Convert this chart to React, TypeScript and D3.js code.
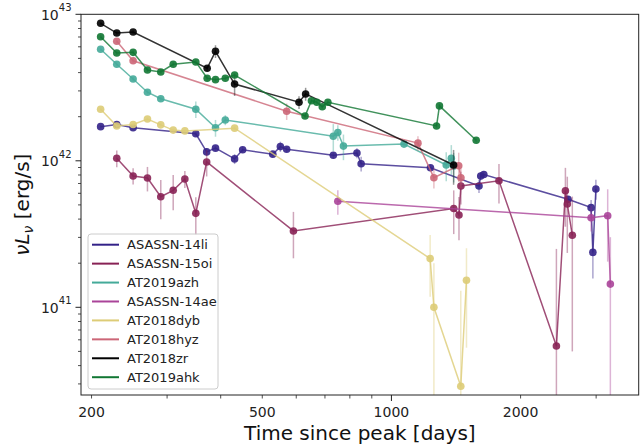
import React, { useRef, useEffect } from 'react';
import * as d3 from 'd3';

// time since peak [days], nuL_nu and its error in units of 1e42 erg/s
const days14li = [210, 229, 250, 350, 371, 389, 431, 450, 529, 551, 570, 732, 831, 850, 1233, 1600, 1615, 1642, 2580, 2920, 2948, 2996];
const lum14li = [1.71, 1.77, 1.68, 1.53, 1.15, 1.22, 1.03, 1.19, 1.11, 1.25, 1.2, 1.09, 1.13, 0.955, 0.897, 0.673, 0.788, 0.806, 0.546, 0.479, 0.237, 0.642];
const err14li = [0.05, 0.05, 0.05, 0.05, 0.07, 0.05, 0.08, 0.05, 0.04, 0.1, 0.05, 0.05, 0.09, 0.11, 0.04, 0.07, 0.05, 0.04, 0.03, 0.06, 0.08, 0.1];

const days15oi = [229, 250, 270, 290, 310, 330, 350, 371, 591, 1397, 1437, 1452, 1781, 2424, 2544, 2570, 2640];
const lum15oi = [1.04, 0.788, 0.763, 0.569, 0.629, 0.751, 0.438, 0.982, 0.332, 0.472, 0.427, 0.673, 0.731, 0.0544, 0.625, 0.507, 0.31];
const err15oi = [0.135, 0.1, 0.145, 0.17, 0.17, 0.1, 0.127, 0.2, 0.116, 0.156, 0.14, 0.17, 0.22, 0.196, 0.27, 0.272, 0.26];

const daysAzh = [210, 229, 250, 270, 290, 350, 389, 410, 732, 750, 773, 1070, 1342, 1379, 1397];
const lumAzh = [5.77, 4.56, 3.62, 2.94, 2.65, 2.25, 1.68, 1.9, 1.47, 1.56, 1.26, 1.3, 0.936, 1.04, 0.922];
const errAzh = [0.17, 0.14, 0.11, 0.09, 0.08, 0.29, 0.22, 0.15, 0.31, 0.19, 0.25, 0.04, 0.21, 0.24, 0.21];

const days14ae = [750, 2920, 3192, 3238];
const lum14ae = [0.529, 0.409, 0.422, 0.144];
const err14ae = [0.1, 0.08, 0.217, 0.157];

const daysDyb = [210, 229, 250, 270, 290, 310, 330, 431, 1231, 1256, 1451, 1496];
const lumDyb = [2.25, 1.73, 1.77, 1.93, 1.76, 1.62, 1.6, 1.67, 0.215, 0.1, 0.0289, 0.153];
const errDyb = [0.05, 0.05, 0.05, 0.05, 0.05, 0.04, 0.04, 0.05, 0.097, 0.1, 0.101, 0.1];

const daysHyz = [229, 250, 570, 1153, 1256, 1435, 1452];
const lumHyz = [6.54, 4.82, 2.18, 1.32, 0.767, 0.926, 0.767];
const errHyz = [0.2, 0.15, 0.28, 0.15, 0.12, 0.21, 0.12];

const daysZr = [210, 229, 250, 372, 389, 431, 609, 631, 1396];
const lumZr = [8.68, 7.45, 7.57, 4.28, 5.59, 3.34, 2.51, 2.86, 0.936];
const errZr = [0.2, 0.2, 0.2, 0.2, 0.56, 0.57, 0.25, 0.29, 0.25];

const daysAhk = [210, 229, 250, 270, 290, 310, 350, 372, 389, 410, 431, 629, 651, 670, 690, 711, 1274, 1294, 1576];
const lumAhk = [7.03, 5.44, 5.5, 4.17, 4.04, 4.56, 4.73, 3.66, 3.58, 3.66, 3.85, 2.02, 2.57, 2.51, 2.34, 2.51, 1.73, 2.37, 1.38];
const errAhk = [0.21, 0.16, 0.17, 0.13, 0.12, 0.14, 0.14, 0.11, 0.11, 0.11, 0.12, 0.06, 0.08, 0.08, 0.07, 0.08, 0.05, 0.07, 0.04];

const names = ['ASASSN-14li', 'ASASSN-15oi', 'AT2019azh', 'ASASSN-14ae', 'AT2018dyb', 'AT2018hyz', 'AT2018zr', 'AT2019ahk'];
const colors = ['#332288', '#882255', '#44AA99', '#AA4499', '#DDCC77', '#CC6677', '#000000', '#117733'];
const xTickLabels = [200, 500, 1000, 2000];

const App = () => {
  const svgRef = useRef(null);
  useEffect(() => {
    const W = 644, H = 445;
    const margin = { top: 14.3, right: 5.3, bottom: 50, left: 81 };
    const font = 'DejaVu Sans, sans-serif';
    const svg = d3.select(svgRef.current).attr('width', W).attr('height', H);
    svg.selectAll('*').remove();

    const x = d3.scaleLog().domain([189, 3770]).range([margin.left, W - margin.right]);
    const y = d3.scaleLog().domain([2.52e40, 1e43]).range([H - margin.bottom, margin.top]);
    const [x0, x1] = x.range();
    const [yb, yt] = y.range();

    const series = [
      [days14li, lum14li, err14li], [days15oi, lum15oi, err15oi], [daysAzh, lumAzh, errAzh],
      [days14ae, lum14ae, err14ae], [daysDyb, lumDyb, errDyb], [daysHyz, lumHyz, errHyz],
      [daysZr, lumZr, errZr], [daysAhk, lumAhk, errAhk],
    ].map(([d, l, e], i) => ({
      name: names[i],
      color: colors[i],
      pts: d.map((t, j) => ({ t, L: l[j] * 1e42, e: e[j] * 1e42 })),
    }));

    svg.append('defs').append('clipPath').attr('id', 'plotclip')
      .append('rect').attr('x', x0).attr('y', yt).attr('width', x1 - x0).attr('height', yb - yt);

    const plot = svg.append('g').attr('clip-path', 'url(#plotclip)');
    const line = d3.line().x(d => x(d.t)).y(d => y(d.L));

    series.forEach(s => {
      const g = plot.append('g');
      g.selectAll('line.err')
        .data(s.pts)
        .join('line')
        .attr('class', 'err')
        .attr('x1', d => x(d.t)).attr('x2', d => x(d.t))
        .attr('y1', d => (d.L - d.e > 0 ? y(d.L - d.e) : yb + 10))
        .attr('y2', d => y(d.L + d.e))
        .attr('stroke', s.color).attr('stroke-width', 1.5).attr('opacity', 0.4);
      g.append('path')
        .attr('d', line(s.pts))
        .attr('fill', 'none').attr('stroke', s.color).attr('stroke-width', 1.5).attr('opacity', 0.8);
      g.selectAll('circle')
        .data(s.pts)
        .join('circle')
        .attr('cx', d => x(d.t)).attr('cy', d => y(d.L)).attr('r', 3.8)
        .attr('fill', s.color).attr('opacity', 0.9);
    });

    // axes frame
    svg.append('rect')
      .attr('x', x0).attr('y', yt).attr('width', x1 - x0).attr('height', yb - yt)
      .attr('fill', 'none').attr('stroke', '#222').attr('stroke-width', 1);

    const isPow10 = v => Math.abs(Math.log10(v) - Math.round(Math.log10(v))) < 1e-9;

    // x ticks
    const xt = svg.append('g');
    x.ticks().filter(v => v >= 189 && v <= 3770).forEach(v => {
      const big = isPow10(v);
      xt.append('line').attr('x1', x(v)).attr('x2', x(v)).attr('y1', yb).attr('y2', yb + (big ? 6 : 3.5))
        .attr('stroke', '#222').attr('stroke-width', big ? 1 : 0.8);
      if (xTickLabels.includes(v)) {
        xt.append('text').attr('x', x(v)).attr('y', yb + 21.5).attr('text-anchor', 'middle')
          .style('font-family', font).style('font-size', '14px').attr('fill', '#222').text(v);
      }
    });

    // y ticks
    const yt2 = svg.append('g');
    y.ticks().filter(v => v >= 2.52e40 && v <= 1e43 * 1.0001).forEach(v => {
      const big = isPow10(v);
      yt2.append('line').attr('x1', x0).attr('x2', x0 - (big ? 5.5 : 3)).attr('y1', y(v)).attr('y2', y(v))
        .attr('stroke', '#222').attr('stroke-width', big ? 1 : 0.8);
      if (big) {
        const t = yt2.append('text').attr('x', x0 - 9.5).attr('y', y(v) + 5.3).attr('text-anchor', 'end')
          .style('font-family', font).style('font-size', '14px').attr('fill', '#222');
        t.append('tspan').text('10');
        t.append('tspan').attr('dy', -8.5).style('font-size', '10px').text(Math.round(Math.log10(v)));
      }
    });

    // axis labels
    svg.append('text').attr('x', (x0 + x1) / 2).attr('y', 440).attr('text-anchor', 'middle')
      .style('font-family', font).style('font-size', '20px').attr('fill', '#111')
      .text('Time since peak [days]');

    const yl = svg.append('text')
      .attr('transform', `translate(29,${(yt + yb) / 2}) rotate(-90)`)
      .attr('text-anchor', 'middle')
      .style('font-family', font).style('font-size', '20px').attr('fill', '#111');
    yl.append('tspan').style('font-style', 'italic').text('νL');
    yl.append('tspan').attr('dy', 4).style('font-style', 'italic').style('font-size', '14px').text('ν');
    yl.append('tspan').attr('dy', -4).text(' [erg/s]');

    // legend
    const legend = svg.append('g').attr('transform', 'translate(88,234)');
    legend.append('rect').attr('width', 130).attr('height', 155).attr('rx', 3)
      .attr('fill', 'white').attr('fill-opacity', 0.8).attr('stroke', '#ccc').attr('stroke-width', 1);
    legend.selectAll('line')
      .data(series)
      .join('line')
      .attr('x1', 4).attr('x2', 31)
      .attr('y1', (d, i) => 10.7 + i * 18.93).attr('y2', (d, i) => 10.7 + i * 18.93)
      .attr('stroke', d => d.color).attr('stroke-width', 2);
    legend.selectAll('text')
      .data(series)
      .join('text')
      .attr('x', 39)
      .attr('y', (d, i) => 15.4 + i * 18.93)
      .text(d => d.name)
      .style('font-family', font).style('font-size', '13px').attr('fill', '#222');
  }, []);
  return <svg ref={svgRef} style={{ position: 'absolute', left: 0, top: 0 }}></svg>;
};

export default App;
